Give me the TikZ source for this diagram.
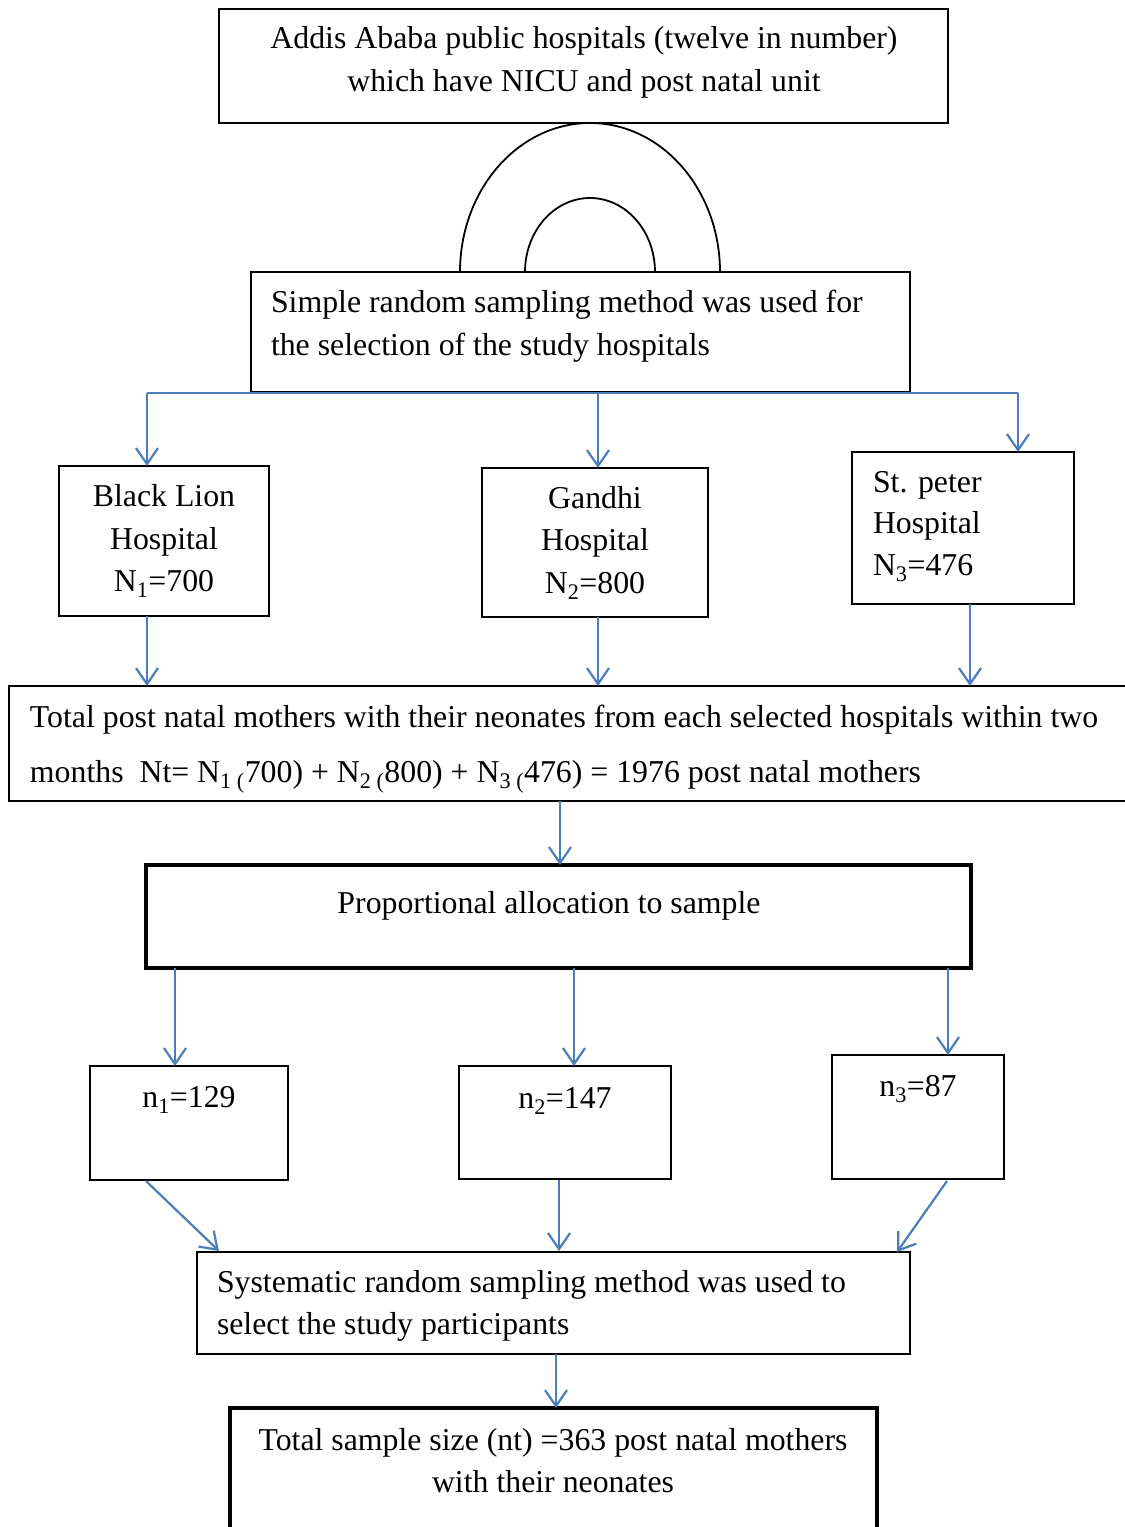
\documentclass[tikz,border=0pt]{standalone}
\usepackage{fontspec}
\setmainfont{Liberation Serif}
\usetikzlibrary{arrows.meta,calc}
\definecolor{arrowblue}{RGB}{74,126,187}
\begin{document}
\begin{tikzpicture}[x=1pt,y=-1pt,
  box/.style={draw=black,line width=1.8pt,inner sep=0pt,outer sep=0pt,anchor=north west},
  thickbox/.style={box,line width=4.5pt},
  txt/.style={font=\fontsize{31.8}{42}\selectfont,inner sep=0pt,outer sep=0pt},
  ctxt/.style={txt,anchor=base},
  ltxt/.style={txt,anchor=base west},
  blueline/.style={draw=arrowblue,line width=2.2pt},
  conn/.style={blueline,-{Straight Barb[length=16pt,width=22pt,line width=2.2pt]}}]
\useasboundingbox (0,0) rectangle (1125,1527);
\clip (0,0) rectangle (1125,1527);

% boxes
\node[box,minimum width=729pt,minimum height=114pt] (top) at (219,9) {};
\node[box,minimum width=659pt,minimum height=120pt] (srs) at (251,272) {};
\node[box,minimum width=210pt,minimum height=150pt] (bl) at (59,466) {};
\node[box,minimum width=226pt,minimum height=149pt] (gh) at (482,468) {};
\node[box,minimum width=222pt,minimum height=152pt] (sp) at (852,452) {};
\node[box,minimum width=1130pt,minimum height=115pt] (tot) at (9,686) {};
\node[thickbox,minimum width=825pt,minimum height=103pt] (prop) at (146,865) {};
\node[box,minimum width=198pt,minimum height=114pt] (n1) at (90,1066) {};
\node[box,minimum width=212pt,minimum height=113pt] (n2) at (459,1066) {};
\node[box,minimum width=172pt,minimum height=124pt] (n3) at (832,1055) {};
\node[box,minimum width=713pt,minimum height=102pt] (sys) at (197,1252) {};
\node[thickbox,minimum width=647pt,minimum height=140pt] (fin) at (230,1408) {};

% arch
\draw[line width=1.8pt] (460,272) arc[start angle=180,end angle=0,x radius=130pt,y radius=149pt];
\draw[line width=1.8pt] (525,272) arc[start angle=180,end angle=0,x radius=65pt,y radius=74pt];

% texts
\node[ctxt] (t1) at (584,48) {Addis Ababa public hospitals (twelve in number)};
\node[ctxt] (t2) at (584,91) {which have NICU and post natal unit};
\node[ltxt] (t3) at (271,312) {Simple random sampling method was used for};
\node[ltxt] (t4) at (271,355) {the selection of the study hospitals};
\node[ctxt] (t5) at (164,506) {Black Lion};
\node[ctxt] (t6) at (164,549) {Hospital};
\node[ctxt] (t7) at (164,591) {N\textsubscript{1}=700};
\node[ctxt] (t8) at (595,508) {Gandhi};
\node[ctxt] (t9) at (595,550) {Hospital};
\node[ctxt] (t10) at (595,593) {N\textsubscript{2}=800};
\node[ltxt] (t11) at (873,492) {St. peter};
\node[ltxt] (t12) at (873,533) {Hospital};
\node[ltxt] (t13) at (873,575) {N\textsubscript{3}=476};
\node[ltxt] (t14) at (30,727) {Total post natal mothers with their neonates from each selected hospitals within two};
\node[ltxt] (t15) at (30,782) {months~~Nt= N\textsubscript{1 (}700) + N\textsubscript{2 (}800) + N\textsubscript{3 (}476) = 1976 post natal mothers};
\node[ctxt] (t16) at (549,913) {Proportional allocation to sample};
\node[ctxt] (t17) at (189,1107) {n\textsubscript{1}=129};
\node[ctxt] (t18) at (565,1108) {n\textsubscript{2}=147};
\node[ctxt] (t19) at (918,1096) {n\textsubscript{3}=87};
\node[ltxt] (t20) at (217,1292) {Systematic random sampling method was used to};
\node[ltxt] (t21) at (217,1334) {select the study participants};
\node[ctxt] (t22) at (553,1450) {Total sample size (nt) =363 post natal mothers};
\node[ctxt] (t23) at (553,1492) {with their neonates};

% connector x references
\coordinate (xa) at (147,0);
\coordinate (xb) at (598,0);
\coordinate (xc) at (1018,0);
\coordinate (xd) at (970,0);
\coordinate (xe) at (560,0);
\coordinate (xf) at (175,0);
\coordinate (xg) at (574,0);
\coordinate (xh) at (948,0);
\coordinate (xi) at (556,0);
\coordinate (ja) at (147,393);
\coordinate (jb) at (598,393);
\coordinate (jc) at (1018,393);

% connectors
\draw[blueline] (ja) -- (jc);
\draw[conn] (ja) -- (ja |- bl.north);
\draw[conn] (jb) -- (jb |- gh.north);
\draw[conn] (jc) -- (jc |- sp.north);
\draw[conn] (xa |- bl.south) -- (xa |- tot.north);
\draw[conn] (xb |- gh.south) -- (xb |- tot.north);
\draw[conn] (xd |- sp.south) -- (xd |- tot.north);
\draw[conn] (xe |- tot.south) -- (xe |- prop.north);
\draw[conn] (xf |- prop.south) -- (xf |- n1.north);
\draw[conn] (xg |- prop.south) -- (xg |- n2.north);
\draw[conn] (xh |- prop.south) -- (xh |- n3.north);
\coordinate (d1s) at (146,1181);
\coordinate (d1e) at (219,1251);
\coordinate (d2s) at (559,1180);
\coordinate (d2e) at (559,1251);
\coordinate (d3s) at (947,1181);
\coordinate (d3e) at (897,1252);
\draw[conn] (d1s) -- (d1e);
\draw[conn] (d2s) -- (d2e);
\draw[conn] (d3s) -- (d3e);
\draw[conn] (xi |- sys.south) -- (xi |- fin.north);
\end{tikzpicture}
\end{document}
